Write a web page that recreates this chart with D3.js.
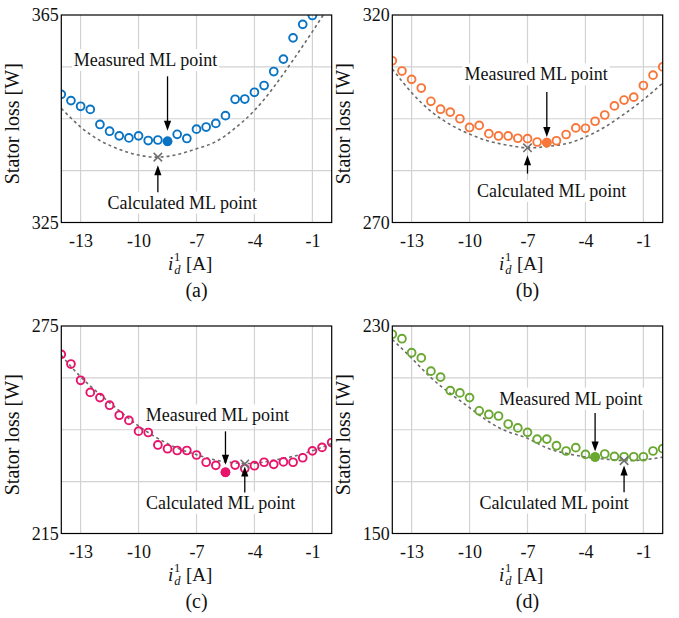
<!DOCTYPE html>
<html>
<head>
<meta charset="utf-8">
<script src="https://cdn.jsdelivr.net/npm/d3@7"></script>
<style>
  html, body { margin: 0; padding: 0; background: #fff; }
  svg { display: block; font-family: "Liberation Serif", "Times New Roman", serif; }
</style>
</head>
<body>
<svg id="fig" width="679" height="618"></svg>
<script>
// d-axis current steps of the sweep [A]
const idSteps = [-14, -13.5, -13, -12.5, -12, -11.5, -11, -10.5, -10, -9.5, -9, -8.5, -8, -7.5,
                 -7, -6.5, -6, -5.5, -5, -4.5, -4, -3.5, -3, -2.5, -2, -1.5, -1, -0.5, 0];
// abscissae of the fitted loss curves [A]
const fitSteps = [-14, -13, -12, -11, -10, -9, -8, -7, -6, -5, -4, -3, -2, -1, 0];
const xTickValues = [-13, -10, -7, -4, -1];
const panelLetters = ["(a)", "(b)", "(c)", "(d)"];

// (a) measured stator loss [W]
const lossA = [349.7, 348.5, 347.4, 346.8, 343.9, 342.6, 341.7, 341.3, 341.7, 340.8, 340.9, 340.65, 342.0, 341.2,
               343.0, 343.4, 344.1, 345.6, 348.75, 348.8, 350.1, 351.4, 354.1, 356.5, 360.6, 363.2, 364.9];
const fitA = [347.0, 343.4, 340.8, 339.1, 338.0, 337.6, 338.1, 339.2, 340.6, 343.2, 346.6, 351.1, 356.3, 361.8, 367.5];
const measuredMlA = [-8.5, 340.65];
const calculatedMlA = [-9, 337.6];
const yTicksA = [325, 365];

// (b)
const lossB = [308.97, 306.5, 304.5, 302.4, 299.2, 297.3, 296.6, 295.0, 292.9, 293.4, 291.4, 290.85, 290.85, 290.3,
               290.2, 289.4, 289.25, 289.7, 291.2, 292.8, 292.7, 294.4, 295.9, 298.1, 299.5, 300.2, 303.0, 305.5, 307.5];
const fitB = [307.0, 301.3, 296.8, 293.6, 291.3, 289.6, 288.6, 288.0, 288.3, 289.0, 290.6, 293.0, 296.1, 299.6, 303.6];
const measuredMlB = [-6, 289.25];
const calculatedMlB = [-7, 288.0];
const yTicksB = [270, 320];

// (c)
const lossC = [266.8, 264.0, 259.3, 255.8, 254.3, 252.1, 249.2, 247.7, 244.6, 244.2, 240.6, 239.5, 239.0, 239.0,
               237.7, 235.6, 234.7, 232.7, 234.8, 233.8, 234.6, 235.6, 235.0, 235.7, 235.6, 236.9, 238.9, 239.9, 241.3];
const fitC = [266.5, 260.3, 255.2, 250.5, 246.1, 242.5, 239.7, 237.8, 236.2, 235.4, 235.3, 236.2, 237.3, 238.9, 241.0];
const measuredMlC = [-5.5, 232.7];
const calculatedMlC = [-4.5, 235.1];
const yTicksC = [215, 275];

// (d)
const lossD = [226.8, 225.1, 219.7, 217.7, 212.6, 210.3, 205.1, 204.2, 202.4, 197.3, 195.9, 195.3, 192.2, 190.7,
               189.0, 186.4, 186.4, 183.85, 181.8, 183.1, 180.5, 179.5, 180.65, 179.7, 179.6, 179.6, 179.6, 181.8, 182.7];
const fitD = [224.8, 217.6, 210.1, 204.0, 198.5, 193.1, 189.2, 186.7, 183.0, 180.9, 179.5, 178.7, 178.1, 178.4, 179.4];
const measuredMlD = [-3.5, 179.5];
const calculatedMlD = [-2, 178.1];
const yTicksD = [150, 230];

// ---------------------------------------------------------------------------
const W = 270.4, H = 207.5;
const gridColor = "#d2d2d2";
const curveColor = "#6b6b6b";

// panel frames and annotation placement (pixel offsets from the marked points)
const panels = [
  { loss: lossA, fit: fitA, meas: measuredMlA, calc: calculatedMlA, yTicks: yTicksA, color: "#0a74c4",
    left: 61.3, top: 15,
    measLabel: { dx: -22, dy: -75.3, tail: -65, tip: -10.5 },
    calcLabel: { dx: 24.4, dy: 51.5, tail: 35, tip: 8 } },
  { loss: lossB, fit: fitB, meas: measuredMlB, calc: calculatedMlB, yTicks: yTicksB, color: "#f8763a",
    left: 392.3, top: 15,
    measLabel: { dx: -10.7, dy: -62.3, tail: -50.6, tip: -5.6 },
    calcLabel: { dx: 24.1, dy: 49.2, tail: 25.8, tip: 7.5 } },
  { loss: lossC, fit: fitC, meas: measuredMlC, calc: calculatedMlC, yTicks: yTicksC, color: "#e8146c",
    left: 61.3, top: 326,
    measLabel: { dx: -8.1, dy: -50.9, tail: -40.9, tip: -7.6 },
    calcLabel: { dx: -24.2, dy: 44.7, tail: 28.4, tip: 2.4 } },
  { loss: lossD, fit: fitD, meas: measuredMlD, calc: calculatedMlD, yTicks: yTicksD, color: "#6aa832",
    left: 392.3, top: 326,
    measLabel: { dx: -24.3, dy: -52.3, tail: -44, tip: -5.6 },
    calcLabel: { dx: -70, dy: 48, tail: 31.7, tip: 5 } }
];

const svg = d3.select("#fig");

function labelWithBox(g, text, cx, baseline) {
  const t = g.append("text")
    .attr("x", cx).attr("y", baseline)
    .attr("text-anchor", "middle")
    .attr("font-size", 18)
    .attr("fill", "#111")
    .text(text);
  const b = t.node().getBBox();
  g.insert("rect", () => t.node())
    .attr("x", b.x - 2).attr("y", b.y - 1)
    .attr("width", b.width + 4).attr("height", b.height + 2)
    .attr("fill", "#fff");
}

function arrow(g, x, y0, y1) {
  // shaft from y0 to the tip at y1, filled head at the tip
  const dir = Math.sign(y1 - y0);
  const headLen = 10, headHalf = 3.6;
  g.append("line")
    .attr("x1", x).attr("x2", x)
    .attr("y1", y0).attr("y2", y1 - dir * headLen * 0.6)
    .attr("stroke", "#000").attr("stroke-width", 1.3);
  g.append("path")
    .attr("d", `M${x},${y1} L${x - headHalf},${y1 - dir * headLen} L${x + headHalf},${y1 - dir * headLen} Z`)
    .attr("fill", "#000");
}

panels.forEach((p, i) => {
  const g = svg.append("g").attr("transform", `translate(${p.left},${p.top})`);
  const x = d3.scaleLinear().domain([-14, 0]).range([0, W]);
  const y = d3.scaleLinear().domain(p.yTicks).range([H, 0]);

  const clipId = `clip-${i}`;
  g.append("clipPath").attr("id", clipId)
    .append("rect").attr("width", W).attr("height", H);

  // grid: vertical lines on the current ticks, horizontal quarters of the loss range
  const yGrid = y.ticks(4).length ? [1, 2, 3].map(k => p.yTicks[0] + k * (p.yTicks[1] - p.yTicks[0]) / 4) : [];
  g.append("g").selectAll("line.gx").data(xTickValues).join("line")
    .attr("x1", d => x(d)).attr("x2", d => x(d))
    .attr("y1", 0).attr("y2", H)
    .attr("stroke", gridColor).attr("stroke-width", 1.2);
  g.append("g").selectAll("line.gy").data(yGrid).join("line")
    .attr("x1", 0).attr("x2", W)
    .attr("y1", d => y(d)).attr("y2", d => y(d))
    .attr("stroke", gridColor).attr("stroke-width", 1.2);

  // axes
  const xAxis = g.append("g").attr("transform", `translate(0,${H})`)
    .call(d3.axisBottom(x).tickValues(xTickValues).tickSize(0).tickPadding(12).tickFormat(d => String(d)));
  const yAxis = g.append("g")
    .call(d3.axisLeft(y).tickValues(p.yTicks).tickSize(0).tickPadding(2.5).tickFormat(d => String(d)));
  [xAxis, yAxis].forEach(a => {
    a.select(".domain").remove();
    a.selectAll("text").attr("font-size", 18).attr("font-family", "Liberation Serif, Times New Roman, serif").attr("fill", "#111");
  });

  // plotted content, clipped to the axes box
  const plot = g.append("g").attr("clip-path", `url(#${clipId})`);

  const fitPts = fitSteps.map((s, k) => [s, p.fit[k]]);
  plot.append("path")
    .datum(fitPts)
    .attr("d", d3.line().x(d => x(d[0])).y(d => y(d[1])).curve(d3.curveNatural))
    .attr("fill", "none")
    .attr("stroke", curveColor)
    .attr("stroke-width", 1.6)
    .attr("stroke-dasharray", "3,3");

  const pts = p.loss.map((v, k) => [idSteps[k], v]);
  plot.append("g").selectAll("circle").data(pts).join("circle")
    .attr("cx", d => x(d[0])).attr("cy", d => y(d[1]))
    .attr("r", 3.9)
    .attr("fill", "none")
    .attr("stroke", p.color)
    .attr("stroke-width", 1.9);

  // measured maximum-likelihood point
  const mx = x(p.meas[0]), my = y(p.meas[1]);
  plot.append("circle")
    .attr("cx", mx).attr("cy", my).attr("r", 4.8)
    .attr("fill", p.color);

  // calculated maximum-likelihood point
  const cx = x(p.calc[0]), cy = y(p.calc[1]);
  const s = 4.2;
  plot.append("path")
    .attr("d", `M${cx - s},${cy - s}L${cx + s},${cy + s}M${cx - s},${cy + s}L${cx + s},${cy - s}`)
    .attr("stroke", "#707070").attr("stroke-width", 1.6).attr("fill", "none");

  // annotations
  const ann = g.append("g");
  labelWithBox(ann, "Measured ML point", mx + p.measLabel.dx, my + p.measLabel.dy);
  arrow(ann, mx, my + p.measLabel.tail, my + p.measLabel.tip);
  labelWithBox(ann, "Calculated ML point", cx + p.calcLabel.dx, cy + p.calcLabel.dy);
  arrow(ann, cx, cy + p.calcLabel.tail, cy + p.calcLabel.tip);

  // frame
  g.append("rect")
    .attr("width", W).attr("height", H)
    .attr("fill", "none").attr("stroke", "#000").attr("stroke-width", 1.2);

  // y-axis title
  g.append("text")
    .attr("transform", `translate(-42,${H / 2 + 5}) rotate(-90)`)
    .attr("text-anchor", "middle")
    .attr("font-size", 20)
    .attr("fill", "#111")
    .text("Stator loss [W]");

  // x-axis title: i_d^1 [A]
  const xt = g.append("text")
    .attr("x", 106.7).attr("y", H + 47)
    .attr("font-size", 19)
    .attr("fill", "#111");
  xt.append("tspan").attr("font-style", "italic").text("i");
  xt.append("tspan").attr("font-style", "italic").attr("font-size", 12.5).attr("dx", 1).attr("dy", 4.5).text("d");
  xt.append("tspan").attr("font-size", 12.5).attr("dx", -6.5).attr("dy", -13).text("1");
  xt.append("tspan").attr("dy", 8.5).attr("dx", 1).text(" [A]");

  // panel letter
  g.append("text")
    .attr("x", W / 2).attr("y", H + 74)
    .attr("text-anchor", "middle")
    .attr("font-size", 20)
    .attr("fill", "#111")
    .text(panelLetters[i]);
});
</script>
</body>
</html>
